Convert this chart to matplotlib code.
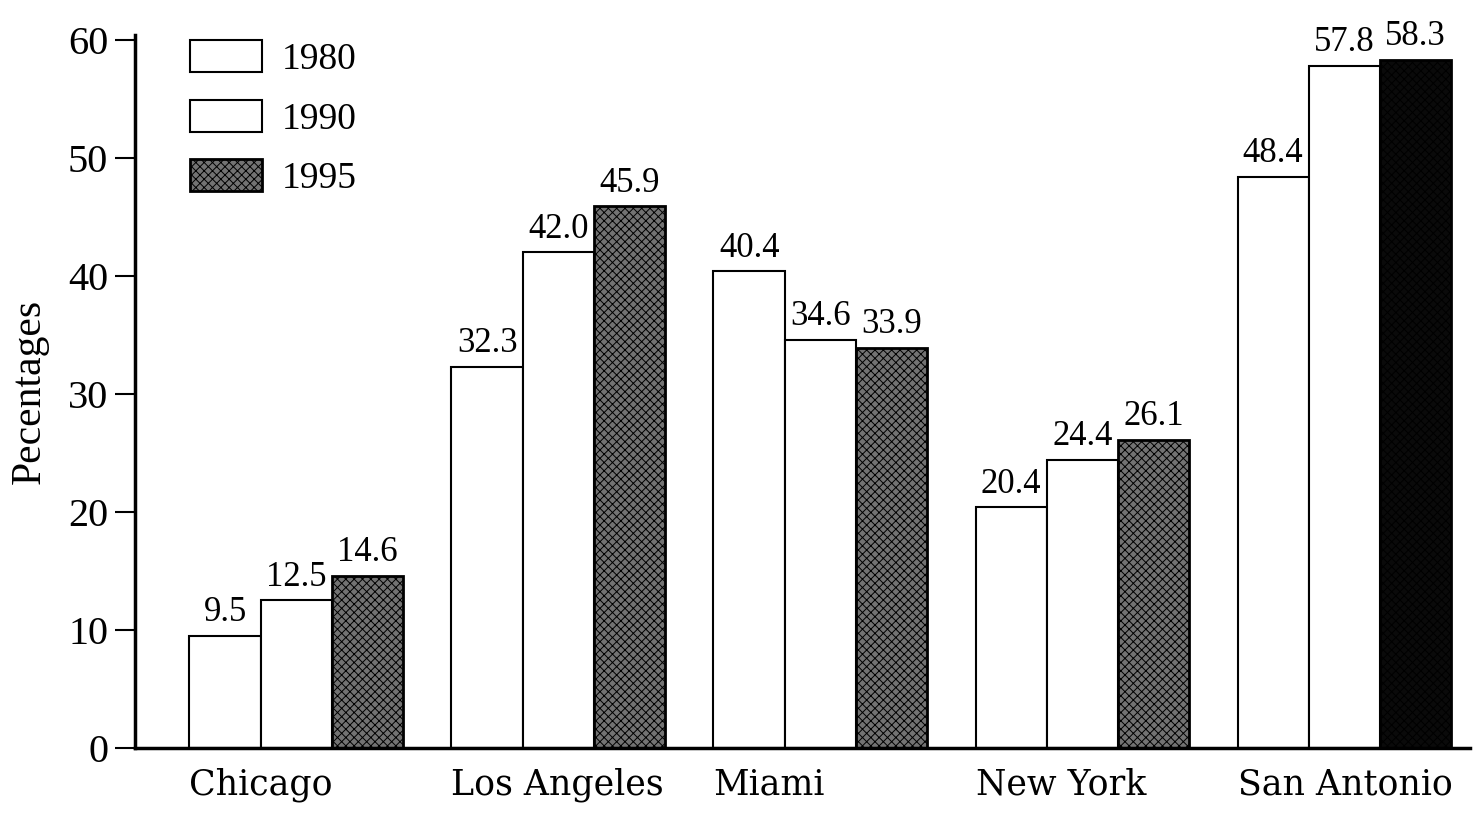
import matplotlib
matplotlib.use("Agg")
import matplotlib.pyplot as plt
import numpy as np
from matplotlib.patches import Patch

cities = ["Chicago", "Los Angeles", "Miami", "New York", "San Antonio"]
years = ["1980", "1990", "1995"]
pct_1980 = [9.5, 32.3, 40.4, 20.4, 48.4]
pct_1990 = [12.5, 42.0, 34.6, 24.4, 57.8]
pct_1995 = [14.6, 45.9, 33.9, 26.1, 58.3]
yticks = [0, 10, 20, 30, 40, 50, 60]

plt.rcParams["font.family"] = ["Liberation Serif", "DejaVu Serif"]
plt.rcParams["hatch.linewidth"] = 0.7
plt.rcParams["hatch.color"] = "black"

fig = plt.figure(figsize=(14.83, 8.13), dpi=100)
ax = fig.add_axes([0.0910, 0.0800, 0.9002, 0.877])

x = np.arange(len(cities))
w = 0.272
series = [pct_1980, pct_1990, pct_1995]
offsets = [-w, 0.0, w]

styles = [
    dict(facecolor="white", edgecolor="black", linewidth=1.5),
    dict(facecolor="white", edgecolor="black", linewidth=1.5),
    dict(facecolor="#737373", edgecolor="black", linewidth=2.0, hatch="xxxx"),
]

for vals, off, st in zip(series, offsets, styles):
    bars = ax.bar(x + off, vals, width=w, **st)
    for b, v in zip(bars, vals):
        ax.text(b.get_x() + b.get_width() / 2, v + 0.55, f"{v:.1f}",
                ha="center", va="bottom", fontsize=25)

# the tallest 1995 bar prints almost solid black
ax.patches[-1].set_facecolor("#0a0a0a")

ax.set_xlim(-0.616, 4.479)
ax.set_ylim(0, 60.4)
ax.set_yticks(yticks)
ax.set_yticklabels([str(t) for t in yticks], fontsize=29)

# city names start at the left edge of each group
ax.set_xticks(x - 1.5 * w)
ax.set_xticklabels(cities, fontsize=25, family="DejaVu Serif", ha="left")
ax.tick_params(axis="x", length=0, pad=14)
ax.tick_params(axis="y", length=14.4, width=1.5, pad=5)
ax.set_ylabel("Pecentages", fontsize=30, labelpad=14)

for s in ["top", "right"]:
    ax.spines[s].set_visible(False)
ax.spines["left"].set_linewidth(2.5)
ax.spines["bottom"].set_linewidth(2.5)

handles = [Patch(**styles[0]), Patch(**styles[1]), Patch(**styles[2])]
ax.legend(handles, years, loc="upper left", bbox_to_anchor=(0.041, 0.993),
          frameon=False, fontsize=27, handlelength=1.92, handleheight=0.95,
          labelspacing=0.6, handletextpad=0.53, borderaxespad=0.0,
          borderpad=0.0)

fig.savefig("out.png", dpi=100)
